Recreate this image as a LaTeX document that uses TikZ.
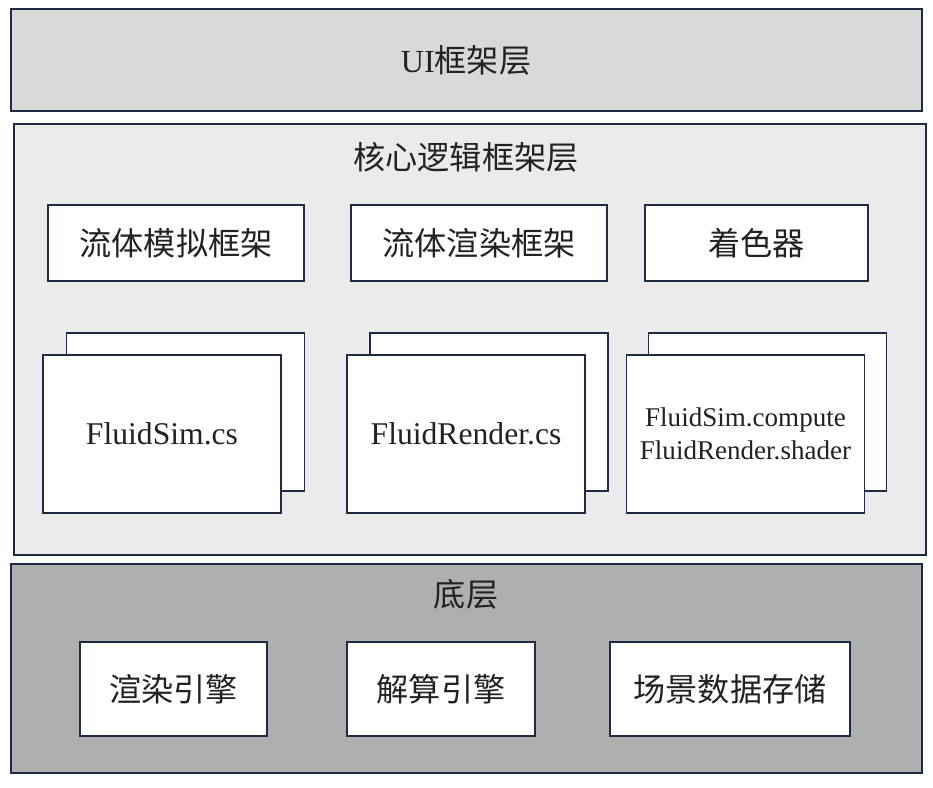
\documentclass[tikz,border=0pt]{standalone}
\usepackage{fontspec}
\setmainfont{Liberation Serif}
\newfontfamily\cjk{Noto Sans CJK SC}
\definecolor{layerborder}{HTML}{1F2A44}
\definecolor{uigrey}{HTML}{D9D9D9}
\definecolor{coregrey}{HTML}{EBEBEB}
\definecolor{basegrey}{HTML}{AFAFAF}
\definecolor{textdark}{HTML}{222222}

\begin{document}
\begin{tikzpicture}[
  layer/.style={rectangle, draw=layerborder, line width=1pt, minimum width=18.22cm, inner sep=0pt},
  module/.style={rectangle, draw=layerborder, fill=white, line width=1pt, align=center, minimum height=1.52cm, inner sep=0pt, font=\cjk\fontsize{18.3}{21}\selectfont, text=textdark},
  script/.style={rectangle, draw=layerborder, fill=white, line width=1pt, align=center, minimum width=4.76cm, minimum height=3.16cm, inner sep=0pt, text=textdark},
  engine/.style={rectangle, draw=layerborder, fill=white, line width=1pt, align=center, minimum height=1.88cm, inner sep=0pt, font=\cjk\fontsize{18.3}{21}\selectfont, text=textdark},
  title/.style={font=\cjk\fontsize{18.3}{21}\selectfont, text=textdark}
]
\useasboundingbox (0,0) rectangle (18.66,-15.74);

% layers
\node[layer, fill=uigrey, minimum height=2.04cm] (ui) at (9.33,-1.2) {};
\node[layer, fill=coregrey, minimum width=18.24cm, minimum height=8.62cm] (core) at (9.4,-6.79) {};
\node[layer, fill=basegrey, minimum height=4.18cm] (base) at (9.33,-13.37) {};

\node[title] (uititle) at (9.32,-1.2) {{\rmfamily UI}框架层};
\node[title] (coretitle) at (9.32,-3.14) {核心逻辑框架层};
\node[title] (basetitle) at (9.32,-11.88) {底层};

% core modules
\node[module, minimum width=5.12cm] (simframe) at (3.52,-4.86) {流体模拟框架};
\node[module, minimum width=5.12cm] (renderframe) at (9.58,-4.86) {流体渲染框架};
\node[module, minimum width=4.46cm] (shaders) at (15.13,-4.86) {着色器};

% stacked script files
\node[script] (simback) at (3.71,-8.24) {};
\node[script, font=\fontsize{18}{21}\selectfont] (simcs) at (3.24,-8.68) {FluidSim.cs};
\node[script] (renderback) at (9.78,-8.24) {};
\node[script, font=\fontsize{18}{21}\selectfont] (rendercs) at (9.32,-8.68) {FluidRender.cs};
\node[script] (shaderback) at (15.35,-8.24) {};
\node[script, font=\fontsize{15.4}{18.5}\selectfont] (shaderfiles) at (14.91,-8.68) {FluidSim.compute\\FluidRender.shader};

% base engines
\node[engine, minimum width=3.74cm] (renderengine) at (3.47,-13.78) {渲染引擎};
\node[engine, minimum width=3.76cm] (solverengine) at (8.82,-13.78) {解算引擎};
\node[engine, minimum width=4.8cm] (scenestore) at (14.6,-13.78) {场景数据存储};

\end{tikzpicture}
\end{document}
